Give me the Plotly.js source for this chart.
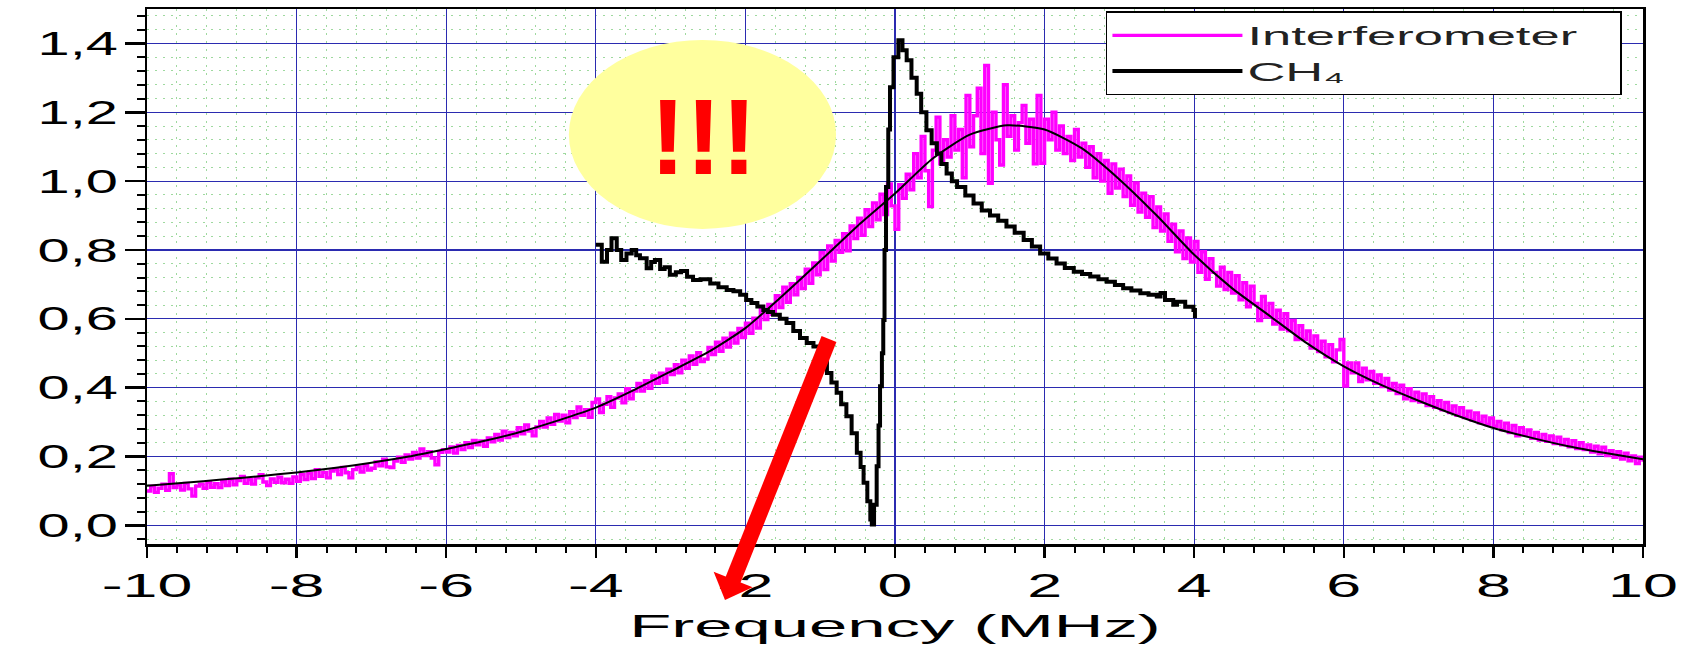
<!DOCTYPE html>
<html>
<head>
<meta charset="utf-8">
<script src="https://cdn.plot.ly/plotly-3.0.1.min.js"></script>
<style>
html, body { margin: 0; padding: 0; background: #ffffff; }
#chart { width: 1684px; height: 653px; }
text.legendtext { letter-spacing: 15px; }
</style>
</head>
<body>
<div id="chart"></div>
<script>
// ---------- data ----------
const seriesNames = ['Interferometer', 'CH\u2084'];

// Interferometer transmission, sampled every 0.05 MHz from -10 MHz
const interfFreqStart = -10;
const interfFreqStep = 0.05;
const interferometer = [
  0.100,0.114,0.096,0.108,0.120,0.102,0.150,0.110,0.118,0.103,0.122,0.106,0.085,0.114,0.120,0.108,0.126,0.111,0.121,0.110,
  0.127,0.116,0.134,0.118,0.130,0.142,0.122,0.133,0.120,0.138,0.147,0.126,0.116,0.135,0.125,0.140,0.124,0.134,0.122,0.141,
  0.128,0.148,0.133,0.152,0.136,0.162,0.143,0.154,0.138,0.158,0.164,0.148,0.168,0.153,0.138,0.162,0.170,0.155,0.174,0.161,
  0.166,0.184,0.173,0.192,0.170,0.168,0.187,0.198,0.183,0.205,0.193,0.212,0.196,0.222,0.203,0.214,0.196,0.176,0.212,0.220,
  0.213,0.228,0.210,0.232,0.220,0.240,0.226,0.247,0.234,0.245,0.230,0.254,0.243,0.264,0.248,0.274,0.255,0.270,0.260,0.284,
  0.266,0.292,0.274,0.260,0.286,0.302,0.286,0.312,0.294,0.322,0.303,0.320,0.298,0.330,0.313,0.344,0.320,0.336,0.314,0.357,
  0.367,0.328,0.352,0.374,0.343,0.370,0.382,0.356,0.397,0.368,0.390,0.412,0.390,0.420,0.398,0.434,0.413,0.442,0.416,0.454,
  0.438,0.467,0.443,0.480,0.456,0.492,0.468,0.502,0.476,0.483,0.517,0.496,0.532,0.506,0.544,0.518,0.558,0.530,0.572,0.546,
  0.587,0.558,0.602,0.573,0.627,0.598,0.642,0.613,0.667,0.633,0.692,0.648,0.702,0.670,0.720,0.688,0.744,0.703,0.762,0.728,
  0.792,0.743,0.812,0.768,0.828,0.793,0.847,0.798,0.870,0.833,0.892,0.843,0.917,0.868,0.937,0.888,0.962,0.903,0.992,0.928,
  0.860,0.990,0.950,1.020,0.975,1.080,1.010,1.130,1.030,0.926,1.090,1.186,1.050,1.120,1.070,1.190,1.090,1.150,1.010,1.249,
  1.100,1.190,1.270,1.080,1.336,0.994,1.200,1.120,1.047,1.280,1.130,1.190,1.090,1.170,1.220,1.110,1.180,1.050,1.249,1.052,
  1.180,1.120,1.200,1.090,1.160,1.080,1.130,1.060,1.150,1.070,1.110,1.040,1.100,1.010,1.080,1.000,1.060,0.965,1.050,0.980,
  1.035,0.955,1.015,0.930,0.995,0.910,0.965,0.895,0.955,0.865,0.925,0.855,0.905,0.825,0.875,0.795,0.855,0.775,0.835,0.765,
  0.825,0.735,0.795,0.715,0.775,0.735,0.695,0.750,0.685,0.735,0.675,0.725,0.655,0.705,0.635,0.695,0.645,0.595,0.665,0.605,
  0.645,0.585,0.625,0.570,0.615,0.565,0.595,0.540,0.580,0.540,0.565,0.515,0.550,0.505,0.535,0.490,0.525,0.475,0.510,0.540,
  0.405,0.472,0.443,0.472,0.418,0.457,0.423,0.447,0.413,0.437,0.403,0.427,0.393,0.412,0.383,0.407,0.368,0.397,0.363,0.387,
  0.358,0.382,0.348,0.374,0.343,0.362,0.336,0.357,0.328,0.347,0.320,0.342,0.313,0.332,0.306,0.327,0.298,0.317,0.293,0.312,
  0.288,0.302,0.278,0.297,0.270,0.290,0.260,0.284,0.263,0.277,0.253,0.270,0.248,0.264,0.244,0.260,0.238,0.256,0.234,0.250,
  0.228,0.246,0.223,0.240,0.220,0.234,0.213,0.230,0.208,0.227,0.203,0.217,0.198,0.214,0.193,0.210,0.188,0.202,0.180,0.198,0.185
];

// smooth fit through the interferometer data
const fitFreq = [-10,-9.5,-9,-8.5,-8,-7.5,-7,-6.5,-6,-5.5,-5,-4.5,-4,-3.5,-3,-2.5,-2,-1.5,-1,-0.5,
                 0,0.5,1,1.5,2,2.5,3,3.5,4,4.5,5,5.5,6,6.5,7,7.5,8,8.5,9,9.5,10];
const fitValues = [0.115,0.124,0.133,0.143,0.154,0.167,0.182,0.200,0.222,0.245,0.272,0.305,0.342,0.392,0.447,0.503,0.573,0.668,0.768,0.870,
                   0.964,1.065,1.135,1.162,1.150,1.095,1.005,0.900,0.786,0.690,0.610,0.530,0.462,0.408,0.362,0.320,0.283,0.255,0.230,0.210,0.192];

// CH4 signal
const ch4Freq = [-4.00,-3.92,-3.85,-3.79,-3.72,-3.66,-3.59,-3.52,-3.46,-3.41,-3.32,-3.26,-3.21,-3.14,-3.08,-3.01,-2.93,-2.86,-2.78,-2.70,
                 -2.60,-2.47,-2.36,-2.25,-2.16,-2.07,-1.99,-1.92,-1.84,-1.76,-1.70,-1.63,-1.54,-1.45,-1.36,-1.27,-1.18,-1.09,-1.00,-0.91,
                 -0.85,-0.78,-0.72,-0.65,-0.58,-0.51,-0.46,-0.42,-0.37,-0.33,-0.31,-0.28,-0.245,-0.22,-0.20,-0.175,-0.157,-0.14,-0.12,-0.09,
                 -0.067,-0.02,0.045,0.10,0.156,0.22,0.29,0.35,0.42,0.49,0.56,0.62,0.69,0.76,0.83,0.94,1.05,1.16,1.27,1.38,
                 1.49,1.60,1.72,1.83,1.94,2.05,2.16,2.27,2.39,2.50,2.61,2.72,2.83,2.94,3.05,3.16,3.28,3.39,3.50,3.55,
                 3.61,3.72,3.77,3.88,3.99,4.01];
const ch4Values = [0.815,0.766,0.800,0.834,0.800,0.771,0.790,0.800,0.785,0.776,0.747,0.765,0.771,0.745,0.750,0.728,0.735,0.739,0.722,0.713,
                   0.715,0.703,0.692,0.684,0.680,0.670,0.655,0.646,0.636,0.626,0.620,0.612,0.600,0.588,0.565,0.544,0.530,0.520,0.482,0.443,
                   0.415,0.385,0.352,0.317,0.268,0.211,0.170,0.124,0.070,0.017,0.003,0.060,0.172,0.290,0.404,0.500,0.597,0.800,0.983,1.150,
                   1.273,1.360,1.409,1.380,1.351,1.300,1.254,1.200,1.148,1.110,1.080,1.050,1.022,1.000,0.983,0.958,0.935,0.915,0.900,0.885,
                   0.868,0.850,0.829,0.810,0.790,0.775,0.761,0.748,0.737,0.730,0.723,0.715,0.708,0.698,0.689,0.682,0.674,0.670,0.665,0.675,
                   0.655,0.641,0.650,0.635,0.626,0.602];

// tick labels (comma decimal separator as in the reference)
const xTickVals = [-10,-8,-6,-4,-2,0,2,4,6,8,10];
const xTickText = ['-10','-8','-6','-4','-2','0','2','4','6','8','10'];
const yTickVals = [0,0.2,0.4,0.6,0.8,1.0,1.2,1.4];
const yTickText = ['0,0','0,2','0,4','0,6','0,8','1,0','1,2','1,4'];
const xTitle = 'Frequency (MHz)';
const calloutText = '!!!';

// ---------- build the chart ----------
const interfFreq = interferometer.map((_, i) => +(interfFreqStart + i * interfFreqStep).toFixed(2));

const traces = [
  { x: interfFreq, y: interferometer, type: 'scatter', mode: 'lines', name: seriesNames[0],
    line: { color: '#ff00ff', width: 3.4, shape: 'hv' } },
  { x: fitFreq, y: fitValues, type: 'scatter', mode: 'lines', name: 'fit', showlegend: false,
    line: { color: '#000000', width: 2, shape: 'spline', smoothing: 0.6 } },
  { x: ch4Freq, y: ch4Values, type: 'scatter', mode: 'lines', name: seriesNames[1],
    line: { color: '#000000', width: 4, shape: 'hv' } }
];

const fontFamily = '"Liberation Sans", Arial, sans-serif';
const majorGrid = '#2b2bb0';
const minorGrid = '#9fd99f';

// plot-area geometry used only to place the decorative overlay (ellipse, arrow)
const plotBox = { left: 147, top: 9, width: 1496, height: 535 };
const toPaper = (px, py) => [(px - plotBox.left) / plotBox.width, (plotBox.top + plotBox.height - py) / plotBox.height];

// red arrow: tail, tip, head size (pixels)
const arrowTail = [829, 339], arrowTip = [725, 600];
const headLen = 22, headHalf = 21;
const adx = arrowTip[0] - arrowTail[0], ady = arrowTip[1] - arrowTail[1];
const alen = Math.hypot(adx, ady);
const ux = adx / alen, uy = ady / alen;
const baseC = [arrowTip[0] - headLen * ux, arrowTip[1] - headLen * uy];
const b1 = toPaper(baseC[0] - headHalf * uy, baseC[1] + headHalf * ux);
const b2 = toPaper(baseC[0] + headHalf * uy, baseC[1] - headHalf * ux);
const tipP = toPaper(arrowTip[0], arrowTip[1]);
const tailP = toPaper(arrowTail[0], arrowTail[1]);
const shaftEnd = toPaper(baseC[0] + 3 * ux, baseC[1] + 3 * uy);

const layout = {
  width: 1684, height: 653,
  margin: { l: plotBox.left, r: 1684 - plotBox.left - plotBox.width, t: plotBox.top, b: 653 - plotBox.top - plotBox.height, pad: 0 },
  paper_bgcolor: '#ffffff', plot_bgcolor: '#ffffff',
  separators: ',.',
  font: { family: fontFamily, color: '#000000' },
  showlegend: true,
  legend: {
    x: 0.641, y: 0.996, xanchor: 'left', yanchor: 'top',
    bgcolor: '#ffffff', bordercolor: '#000000', borderwidth: 1.5,
    font: { family: fontFamily, size: 25, color: '#222222' },
    itemwidth: 130, tracegroupgap: 0
  },
  xaxis: {
    range: [-10, 10], tickmode: 'array', tickvals: xTickVals, ticktext: xTickText, tickangle: 0,
    ticks: 'outside', ticklen: 11, tickwidth: 2.5, tickcolor: '#000000',
    tickfont: { family: fontFamily, size: 33, color: '#000000' },
    showline: true, mirror: true, linecolor: '#000000', linewidth: 2.5,
    showgrid: true, gridcolor: majorGrid, gridwidth: 1.2, zeroline: false,
    minor: { dtick: 0.4, tick0: -10, ticks: 'outside', ticklen: 6, tickwidth: 2, tickcolor: '#000000',
             showgrid: true, gridcolor: minorGrid, gridwidth: 1, griddash: '2px,6px' },
    title: { text: xTitle, font: { family: fontFamily, size: 32, color: '#000000' }, standoff: 12 },
    automargin: false, fixedrange: true
  },
  yaxis: {
    range: [-0.054, 1.5], tickmode: 'array', tickvals: yTickVals, ticktext: yTickText,
    ticks: 'outside', ticklen: 20, tickwidth: 2.5, tickcolor: '#000000',
    tickfont: { family: fontFamily, size: 33, color: '#000000' },
    showline: true, mirror: true, linecolor: '#000000', linewidth: 2.5,
    showgrid: true, gridcolor: majorGrid, gridwidth: 1.2, zeroline: false,
    minor: { dtick: 0.04, tick0: 0, ticks: 'outside', ticklen: 8, tickwidth: 2, tickcolor: '#000000',
             showgrid: true, gridcolor: minorGrid, gridwidth: 1, griddash: '2px,6px' },
    automargin: false, fixedrange: true
  },
  shapes: [
    { type: 'circle', xref: 'paper', yref: 'paper', x0: 0.282, x1: 0.4606, y0: 0.589, y1: 0.942,
      fillcolor: '#ffff9e', line: { width: 0 }, layer: 'above' },
    { type: 'line', xref: 'paper', yref: 'paper', x0: tailP[0], y0: tailP[1], x1: shaftEnd[0], y1: shaftEnd[1],
      line: { color: '#ff0000', width: 16 }, layer: 'above' },
    { type: 'path', xref: 'paper', yref: 'paper',
      path: `M ${tipP[0]},${tipP[1]} L ${b1[0]},${b1[1]} L ${b2[0]},${b2[1]} Z`,
      fillcolor: '#ff0000', line: { width: 0 }, layer: 'above' }
  ],
  annotations: [
    { xref: 'paper', yref: 'paper', x: 0.3717, y: 0.76, text: calloutText, showarrow: false,
      xanchor: 'center', yanchor: 'middle',
      font: { family: fontFamily, size: 107, color: '#ff0000', weight: 'bold' } }
  ]
};

// the reference lettering is horizontally stretched; reproduce it on the real text nodes
const stretchGroups = [
  { sel: '.xtick text', factor: 1.9 },
  { sel: '.ytick text', factor: 1.75 },
  { sel: 'text.xtitle', factor: 2.15 },
  { sel: 'text.legendtext', factor: 2.1 }
];

Plotly.newPlot('chart', traces, layout, { displayModeBar: false, staticPlot: true }).then(gd => {
  stretchGroups.forEach(g => {
    gd.querySelectorAll(g.sel).forEach(el => {
      el.style.letterSpacing = '0px';
      const w = el.getComputedTextLength();
      if (w > 0) {
        el.setAttribute('textLength', (w * g.factor).toFixed(1));
        el.setAttribute('lengthAdjust', 'spacingAndGlyphs');
      }
    });
  });
  // drop the library's off-screen measuring svg and any empty placeholder text nodes
  const tester = document.getElementById('js-plotly-tester');
  if (tester) tester.remove();
  document.querySelectorAll('text').forEach(t => { if (!t.textContent.trim()) t.remove(); });
});
</script>
</body>
</html>
